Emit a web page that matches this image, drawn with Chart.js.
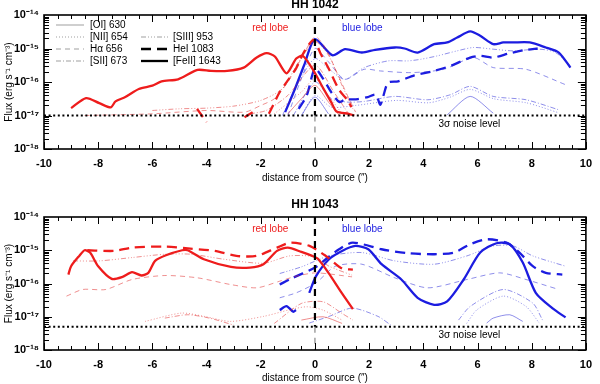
<html>
<head>
<title>HH 1042 / HH 1043 flux profiles</title>
<script src="https://cdn.jsdelivr.net/npm/chart.js@4/dist/chart.umd.min.js"></script>
<style>
  body { margin: 0; padding: 0; background: #fff; }
  .box { position: absolute; left: 0; width: 600px; height: 192px; }
</style>
</head>
<body>
<div class="box" style="top:0"><canvas id="c1" width="600" height="192"></canvas></div>
<div class="box" style="top:192px"><canvas id="c2" width="600" height="192"></canvas></div>
<script>
// values: [distance ("), log10 flux]
// ---- HH 1042 ----
const a_redFeII = [[-9.0,-16.78],[-8.45,-16.48],[-7.96,-16.63],[-7.54,-16.76],[-7.36,-16.58],[-7.0,-16.45],[-6.5,-16.21],[-6.0,-16.11],[-5.66,-15.98],[-5.05,-15.92],[-4.33,-15.64],[-3.84,-15.67],[-3.24,-15.67],[-2.63,-15.57],[-2.15,-15.27],[-1.78,-15.14],[-1.48,-15.24],[-1.05,-15.74],[-0.69,-15.3],[-0.45,-15.22],[-0.08,-15.62],[0.28,-16.15],[0.6,-16.6],[0.8,-16.88],[1.25,-16.95],[1.45,-17.0]];
const a_redHeI = [[-4.35,-16.8],[-4.0,-17.2],[null,null],[-2.6,-17.05],[-2.3,-16.9],[null,null],[-1.7,-16.95],[-1.3,-16.3],[-1.0,-15.95],[-0.7,-15.6],[-0.4,-15.1],[-0.05,-14.75],[0.22,-15.17],[0.52,-15.62],[0.89,-16.23],[1.19,-16.53],[1.35,-16.75]];
const a_redSIII = [[-6.0,-16.85],[-5.0,-16.8],[-4.0,-16.78],[-3.0,-16.72],[-2.0,-16.55],[-1.2,-16.2],[-0.6,-15.4],[0.0,-14.8],[0.5,-15.2],[1.0,-16.1],[1.4,-16.8]];
const a_redHa = [[-8.5,-17.0],[-6.0,-16.95],[-4.0,-16.85],[-2.6,-16.9],[-2.0,-16.7],[-1.5,-16.5],[-1.0,-16.0],[-0.5,-15.3],[0.0,-14.65],[0.4,-15.0],[0.8,-15.7],[1.2,-16.4],[1.5,-16.9]];
const a_redSII = [[-2.4,-16.95],[-1.8,-16.85],[-1.0,-16.4],[0.0,-15.5],[0.7,-16.3],[1.2,-16.9]];
const a_redNII = [[-1.5,-16.95],[-0.5,-16.3],[0.0,-15.9],[0.5,-16.4],[1.0,-16.95]];
const a_redOI = [[-1.0,-16.95],[-0.5,-16.5],[0.0,-16.1],[0.5,-16.6],[0.9,-17.0]];

const a_blueFeII = [[-1.1,-16.9],[-0.75,-16.23],[-0.4,-15.5],[0.0,-14.72],[0.64,-15.2],[1.11,-15.02],[1.73,-15.12],[2.22,-15.04],[2.95,-14.97],[3.31,-15.0],[3.79,-15.12],[4.4,-14.87],[4.88,-14.82],[5.25,-14.67],[5.73,-14.49],[6.1,-14.62],[6.58,-14.87],[6.95,-14.82],[7.31,-14.82],[7.93,-14.82],[8.52,-14.97],[9.0,-15.12],[9.43,-15.57]];
const a_blueHeI = [[-0.6,-16.8],[-0.3,-16.4],[0.0,-15.6],[0.3,-15.9],[0.6,-16.3],[0.9,-16.6],[1.1,-16.53],[1.59,-16.51],[1.95,-16.45],[2.25,-16.38],[2.41,-16.68],[2.52,-16.43],[2.7,-16.02],[3.07,-15.98],[3.67,-15.8],[4.4,-15.67],[5.0,-15.52],[5.73,-15.27],[6.1,-15.22],[6.58,-15.27],[7.19,-15.14],[7.79,-15.04],[8.22,-15.0]];
const a_blueSIII = [[-1.2,-17.0],[-0.6,-16.0],[0.0,-15.3],[0.5,-15.6],[1.1,-15.92],[1.82,-15.57],[2.7,-15.37],[3.43,-15.37],[3.92,-15.32],[4.52,-15.22],[5.25,-15.07],[5.85,-14.97],[6.58,-15.02],[7.31,-15.07],[8.28,-15.02],[8.88,-15.12],[9.43,-15.52]];
const a_blueHa = [[-1.0,-17.0],[-0.5,-15.9],[0.0,-15.0],[0.5,-15.4],[1.1,-15.92],[1.82,-15.62],[2.41,-15.67],[3.55,-15.72],[4.76,-15.62],[5.85,-15.27],[6.58,-15.57],[7.79,-15.62],[9.25,-16.08]];
const a_blueSII = [[-0.8,-17.0],[0.0,-16.0],[0.6,-16.5],[1.2,-16.6],[1.82,-16.58],[2.95,-16.43],[4.16,-16.53],[5.0,-16.38],[5.73,-16.13],[6.58,-16.43],[7.79,-16.53],[9.0,-16.83]];
const a_blueNII = [[-0.5,-17.0],[0.0,-16.4],[0.6,-16.75],[1.5,-16.7],[3.0,-16.55],[4.2,-16.62],[5.0,-16.45],[5.73,-16.22],[6.6,-16.5],[7.8,-16.62],[9.0,-16.92]];
const a_blueOI = [[-0.5,-17.0],[0.0,-16.45],[0.5,-16.95],[null,null],[4.88,-16.98],[5.73,-16.43],[6.58,-16.93]];

// ---- HH 1043 ----
const b_redFeII = [[-9.1,-15.73],[-9.0,-15.48],[-8.7,-15.17],[-8.5,-15.0],[-8.3,-15.07],[-8.0,-15.48],[-7.5,-15.86],[-7.1,-15.8],[-6.75,-15.66],[-6.4,-15.76],[-6.15,-15.68],[-5.9,-15.32],[-5.5,-15.15],[-4.9,-15.0],[-4.7,-15.0],[-4.1,-15.27],[-3.1,-15.5],[-2.4,-15.52],[-1.9,-15.42],[-1.4,-15.02],[-1.0,-14.92],[-0.5,-15.05],[-0.1,-15.17],[0.1,-15.25],[0.5,-15.68],[1.0,-16.3],[1.4,-16.77]];
const b_redHeI = [[-8.4,-15.0],[-7.4,-15.02],[-6.75,-14.92],[-5.5,-14.89],[-4.6,-14.95],[-3.7,-15.02],[-2.9,-15.17],[-2.15,-15.17],[-1.4,-14.92],[-0.9,-14.77],[-0.2,-14.87],[0.4,-15.17],[1.0,-15.55],[1.4,-15.58]];
const b_redSIII = [[-8.93,-15.32],[-7.96,-15.32],[-6.75,-15.22],[-5.54,-15.12],[-4.57,-15.12],[-3.36,-15.27],[-1.9,-15.39],[-0.93,-15.17],[0.0,-15.2],[0.52,-15.48],[1.37,-15.75]];
const b_redHa = [[-9.17,-16.38],[-8.57,-16.18],[-7.72,-16.18],[-6.75,-15.88],[-5.54,-15.76],[-4.33,-15.83],[-3.12,-16.03],[-2.15,-16.13],[-1.3,-15.93],[-0.69,-15.78],[0.04,-15.68],[1.37,-15.8]];
const b_redSII = [[-5.54,-17.04],[-4.7,-16.94],[-3.9,-17.04],[-3.0,-17.25],[null,null],[-1.5,-17.2],[-0.5,-16.6],[0.3,-16.55],[1.0,-16.9],[1.4,-17.1]];
const b_redNII = [[-6.27,-17.14],[-4.93,-16.89],[-4.08,-16.99],[-3.12,-17.14],[-1.9,-16.99],[-0.93,-16.79],[-0.3,-16.7],[0.3,-16.8],[1.0,-17.1]];
const b_redOI = [[-0.5,-17.1],[0.3,-17.0],[1.0,-17.2]];

const b_blueFeII = [[-1.3,-16.8],[-1.05,-16.68],[-0.8,-16.85],[-0.7,-16.8],[null,null],[-0.21,-16.28],[0.04,-15.78],[0.52,-15.27],[1.0,-15.02],[1.49,-14.87],[1.97,-14.97],[2.46,-15.42],[3.19,-15.88],[3.79,-16.43],[4.4,-16.64],[4.88,-16.54],[5.49,-15.88],[6.1,-15.07],[6.7,-14.79],[7.19,-14.82],[7.67,-15.37],[8.15,-16.28],[8.76,-16.74],[9.25,-17.02]];
const b_blueHeI = [[-1.3,-16.03],[-0.9,-15.86],[0.0,-15.52],[0.4,-15.27],[0.89,-14.97],[1.4,-14.77],[2.46,-14.97],[3.43,-15.09],[4.4,-15.12],[5.13,-15.07],[5.73,-14.82],[6.34,-14.67],[7.07,-14.77],[7.55,-15.07],[8.04,-15.48],[8.52,-15.68],[9.13,-15.73]];
const b_blueSIII = [[-1.3,-15.7],[-0.5,-15.5],[0.52,-15.17],[1.73,-15.07],[2.95,-15.32],[4.4,-15.42],[5.61,-15.17],[6.58,-14.87],[7.31,-14.87],[8.04,-15.17],[9.25,-15.48]];
const b_blueHa = [[-1.3,-16.43],[-0.69,-16.28],[0.04,-15.98],[0.76,-15.48],[1.73,-15.42],[2.95,-15.83],[4.16,-16.13],[5.61,-15.88],[6.82,-15.68],[7.79,-15.88],[9.0,-16.18]];
const b_blueSII = [[-0.21,-17.19],[0.52,-16.99],[1.37,-16.74],[2.33,-16.99],[2.8,-17.25],[null,null],[5.3,-17.1],[5.73,-16.69],[6.95,-16.18],[8.04,-16.59],[8.4,-17.1]];
const b_blueNII = [[5.6,-17.2],[5.98,-16.79],[6.95,-16.38],[7.79,-16.69],[8.28,-17.19]];
const b_blueOI = [[6.34,-17.19],[6.58,-17.04],[7.19,-16.94],[7.67,-17.14]];

const noise1042 = -17.0;
const noise1043 = -17.3;
const yDecades = [-18, -17, -16, -15, -14];
const xTicks = [-10, -8, -6, -4, -2, 0, 2, 4, 6, 8, 10];

const RED = '#ee1c1c', BLUE = '#1c1ce0';
const RED_THIN = 'rgba(225,40,40,0.75)', BLUE_THIN = 'rgba(40,40,215,0.75)';
const FONT = "'Liberation Sans', Arial, Helvetica, sans-serif";
const STYLE = {
  oi:   { w: 0.7, dash: [] },
  nii:  { w: 0.7, dash: [1, 2] },
  ha:   { w: 0.7, dash: [5, 4] },
  sii:  { w: 0.7, dash: [5, 2, 1, 2] },
  siii: { w: 0.7, dash: [5, 2, 1, 2, 1, 2, 1, 2] },
  hei:  { w: 2.3, dash: [10, 6] },
  feii: { w: 2.3, dash: [] }
};

const pts = arr => arr.map(([x, e]) => ({ x: x, y: e === null ? null : Math.pow(10, e) }));
const sup = s => String(s).replace(/[-0-9]/g, c => '⁻⁰¹²³⁴⁵⁶⁷⁸⁹'['-0123456789'.indexOf(c)]);

function line(data, lobe, key) {
  const s = STYLE[key];
  const thick = s.w > 1;
  const color = lobe === 'red' ? (thick ? RED : RED_THIN) : (thick ? BLUE : BLUE_THIN);
  return { data: pts(data), borderColor: color, borderWidth: s.w, borderDash: s.dash,
           pointRadius: 0, tension: 0.25, spanGaps: false, fill: false };
}
function guides(noise) {
  return [
    { data: pts([[-10, noise], [10, noise]]), borderColor: '#000', borderWidth: 2, borderDash: [2, 2.6], pointRadius: 0 },
    { data: pts([[0, -14], [0, noise]]), borderColor: '#000', borderWidth: 2.2, borderDash: [7, 5], pointRadius: 0 },
    { data: pts([[0, noise], [0, -18]]), borderColor: '#888', borderWidth: 1.2, borderDash: [6, 5], pointRadius: 0 }
  ];
}

const frame = {
  id: 'frame',
  afterDatasetsDraw(chart, args, o) {
    const { ctx, chartArea: a } = chart;
    const xs = chart.scales.x, ys = chart.scales.y;
    ctx.save();
    ctx.strokeStyle = '#000';
    ctx.lineWidth = 1;
    ctx.setLineDash([]);
    ctx.beginPath();
    for (let v = -10; v <= 10.001; v += 0.5) {
      const px = Math.round(xs.getPixelForValue(v)) + 0.5;
      const len = Math.abs(v % 2) < 0.01 ? 7 : 4;
      ctx.moveTo(px, a.bottom); ctx.lineTo(px, a.bottom - len);
      ctx.moveTo(px, a.top); ctx.lineTo(px, a.top + len);
    }
    for (let d = -18; d < -14; d++) {
      for (let m = 1; m <= 9; m++) {
        const py = Math.round(ys.getPixelForValue(m * Number('1e' + d))) + 0.5;
        const len = m === 1 ? 8 : 5;
        ctx.moveTo(a.left, py); ctx.lineTo(a.left + len, py);
        ctx.moveTo(a.right, py); ctx.lineTo(a.right - len, py);
      }
    }
    ctx.stroke();
    ctx.lineWidth = 1.6;
    ctx.strokeRect(a.left, a.top, a.right - a.left, a.bottom - a.top);

    // annotations
    ctx.textBaseline = 'middle';
    ctx.textAlign = 'center';
    ctx.font = 'bold 12px ' + FONT;
    ctx.fillStyle = '#000';
    ctx.fillText(o.title, (a.left + a.right) / 2, a.top - o.titleGap);
    ctx.font = '10px ' + FONT;
    ctx.fillStyle = RED;
    ctx.fillText('red lobe', xs.getPixelForValue(-1.65), a.top + o.lobeDy);
    ctx.fillStyle = BLUE;
    ctx.fillText('blue lobe', xs.getPixelForValue(1.75), a.top + o.lobeDy);
    ctx.fillStyle = '#000';
    ctx.fillText('3σ noise level', xs.getPixelForValue(5.7), ys.getPixelForValue(Math.pow(10, o.noise)) + 9);

    if (o.legend) {
      const items = [
        ['[OI] 630', 'oi', 0, 0], ['[NII] 654', 'nii', 0, 1], ['Hα 656', 'ha', 0, 2], ['[SII] 673', 'sii', 0, 3],
        ['[SIII] 953', 'siii', 1, 1], ['HeI 1083', 'hei', 1, 2], ['[FeII] 1643', 'feii', 1, 3]
      ];
      ctx.textAlign = 'left';
      items.forEach(([txt, key, col, row]) => {
        const s = STYLE[key];
        const x0 = col ? 141 : 56, x1 = col ? 168 : 84;
        const y = a.top + 10 + row * 12;
        ctx.strokeStyle = s.w > 1 ? '#000' : '#777';
        ctx.lineWidth = s.w;
        ctx.setLineDash(s.dash);
        ctx.beginPath(); ctx.moveTo(x0, y); ctx.lineTo(x1, y); ctx.stroke();
        ctx.fillStyle = '#000';
        ctx.fillText(txt, col ? 173 : 90, y);
      });
    }
    ctx.restore();
  }
};

function makeChart(id, sets, opt) {
  return new Chart(document.getElementById(id), {
    type: 'line',
    data: { datasets: sets },
    plugins: [frame],
    options: {
      responsive: false,
      animation: false,
      layout: { padding: { top: opt.padTop, right: 6, left: 0, bottom: 0 } },
      plugins: { legend: { display: false }, tooltip: { enabled: false }, frame: opt.frame },
      scales: {
        x: {
          type: 'linear', min: -10, max: 10,
          grid: { display: false, drawTicks: false },
          border: { display: false },
          afterBuildTicks: s => { s.ticks = xTicks.map(v => ({ value: v })); },
          afterFit: s => { s.height = opt.xHeight; },
          ticks: { padding: 8, color: '#000', font: { family: FONT, size: 11, weight: 'bold' } },
          title: { display: true, text: 'distance from source (″)', color: '#000',
                   font: { family: FONT, size: 10 }, padding: { top: 0, bottom: opt.xTitlePad } }
        },
        y: {
          type: 'logarithmic', min: 1e-18, max: 1e-14,
          grid: { display: false, drawTicks: false },
          border: { display: false },
          afterBuildTicks: s => { s.ticks = yDecades.map(e => ({ value: Number('1e' + e) })); },
          afterFit: s => { s.width = 44; },
          ticks: { padding: 5, color: '#000', font: { family: FONT, size: 11, weight: 'bold' },
                   callback: v => '10' + sup(Math.round(Math.log10(v))) },
          title: { display: true, text: 'Flux (erg s⁻¹ cm⁻³)', color: '#000',
                   font: { family: FONT, size: 10 }, padding: { top: 3, bottom: 0 } }
        }
      }
    }
  });
}

makeChart('c1', [
  ...guides(noise1042),
  line(a_redOI, 'red', 'oi'), line(a_redNII, 'red', 'nii'), line(a_redHa, 'red', 'ha'), line(a_redSII, 'red', 'sii'),
  line(a_redSIII, 'red', 'siii'), line(a_redHeI, 'red', 'hei'), line(a_redFeII, 'red', 'feii'),
  line(a_blueOI, 'blue', 'oi'), line(a_blueNII, 'blue', 'nii'), line(a_blueHa, 'blue', 'ha'), line(a_blueSII, 'blue', 'sii'),
  line(a_blueSIII, 'blue', 'siii'), line(a_blueHeI, 'blue', 'hei'), line(a_blueFeII, 'blue', 'feii')
], { padTop: 15, xHeight: 43, xTitlePad: 8,
     frame: { title: 'HH 1042', titleGap: 10, lobeDy: 13, noise: noise1042, legend: true } });

makeChart('c2', [
  ...guides(noise1043),
  line(b_redOI, 'red', 'oi'), line(b_redNII, 'red', 'nii'), line(b_redHa, 'red', 'ha'), line(b_redSII, 'red', 'sii'),
  line(b_redSIII, 'red', 'siii'), line(b_redHeI, 'red', 'hei'), line(b_redFeII, 'red', 'feii'),
  line(b_blueOI, 'blue', 'oi'), line(b_blueNII, 'blue', 'nii'), line(b_blueHa, 'blue', 'ha'), line(b_blueSII, 'blue', 'sii'),
  line(b_blueSIII, 'blue', 'siii'), line(b_blueHeI, 'blue', 'hei'), line(b_blueFeII, 'blue', 'feii')
], { padTop: 25, xHeight: 34, xTitlePad: 0,
     frame: { title: 'HH 1043', titleGap: 12, lobeDy: 12, noise: noise1043, legend: false } });
</script>
</body>
</html>
